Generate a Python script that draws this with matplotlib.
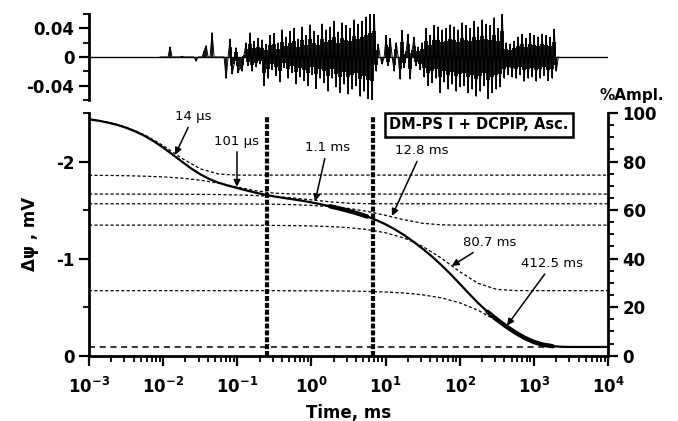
import numpy as np
import matplotlib
matplotlib.use("Agg")
import matplotlib.pyplot as plt
from matplotlib.ticker import FixedLocator, NullFormatter, LogLocator

plt.rcParams['font.family'] = ['DejaVu Sans']
plt.rcParams['mathtext.fontset'] = 'custom'
plt.rcParams['mathtext.rm'] = 'DejaVu Sans:bold'
plt.rcParams['mathtext.bf'] = 'DejaVu Sans:bold'
plt.rcParams['mathtext.it'] = 'DejaVu Sans:bold:italic'

# photovoltage transient, |dpsi| in mV, sampled every 1/8 decade from 1e-3 to 1e4 ms
fit_t = np.logspace(-3, 4, 57)
fit_mv = [2.435, 2.421, 2.402, 2.379, 2.348, 2.310, 2.264, 2.208, 2.144, 2.073,
          2.001, 1.930, 1.869, 1.819, 1.781, 1.752, 1.727, 1.702, 1.679, 1.658,
          1.640, 1.625, 1.611, 1.596, 1.579, 1.560, 1.539, 1.517, 1.492, 1.465,
          1.434, 1.397, 1.353, 1.301, 1.242, 1.175, 1.102, 1.022, 0.935, 0.841,
          0.741, 0.639, 0.541, 0.452, 0.373, 0.302, 0.239, 0.184, 0.141, 0.113,
          0.098, 0.092, 0.090, 0.090, 0.090, 0.090, 0.090]

# single components (dashed), every 1/4 decade
comp_t = np.logspace(-3, 4, 29)
comp_labels = ['14 µs', '101 µs', '1.1 ms', '12.8 ms', '80.7 ms', '412.5 ms']
comp_mv = [
    [2.437, 2.406, 2.355, 2.275, 2.164, 2.034, 1.925, 1.871, 1.860, 1.860,
     1.860, 1.860, 1.860, 1.860, 1.860, 1.860, 1.860, 1.860, 1.860, 1.860,
     1.860, 1.860, 1.860, 1.860, 1.860, 1.860, 1.860, 1.860, 1.860],
    [1.858, 1.857, 1.854, 1.849, 1.842, 1.829, 1.808, 1.777, 1.737, 1.699,
     1.674, 1.666, 1.665, 1.665, 1.665, 1.665, 1.665, 1.665, 1.665, 1.665,
     1.665, 1.665, 1.665, 1.665, 1.665, 1.665, 1.665, 1.665, 1.665],
    [1.665, 1.665, 1.665, 1.664, 1.664, 1.663, 1.662, 1.660, 1.656, 1.650,
     1.640, 1.625, 1.605, 1.585, 1.571, 1.566, 1.565, 1.565, 1.565, 1.565,
     1.565, 1.565, 1.565, 1.565, 1.565, 1.565, 1.565, 1.565, 1.565],
    [1.565, 1.565, 1.565, 1.565, 1.565, 1.565, 1.564, 1.564, 1.563, 1.562,
     1.560, 1.556, 1.548, 1.536, 1.517, 1.487, 1.446, 1.400, 1.364, 1.348,
     1.345, 1.345, 1.345, 1.345, 1.345, 1.345, 1.345, 1.345, 1.345],
    [1.345, 1.345, 1.345, 1.345, 1.345, 1.345, 1.345, 1.345, 1.344, 1.344,
     1.342, 1.340, 1.337, 1.330, 1.319, 1.300, 1.266, 1.212, 1.126, 1.006,
     0.865, 0.745, 0.683, 0.671, 0.670, 0.670, 0.670, 0.670, 0.670],
    [0.670, 0.670, 0.670, 0.670, 0.670, 0.670, 0.670, 0.670, 0.670, 0.670,
     0.670, 0.669, 0.669, 0.668, 0.666, 0.662, 0.656, 0.646, 0.627, 0.596,
     0.545, 0.467, 0.359, 0.238, 0.141, 0.098, 0.090, 0.090, 0.090],
]
baseline_mv = 0.09

# arrow tips (time, mV) and label positions
tip_t = [0.0145, 0.099, 1.12, 12.2, 78, 433]
tip_mv = [2.07, 1.74, 1.59, 1.44, 0.925, 0.31]
lab_t = [0.0254, 0.099, 1.63, 30.9, 250, 1774]
lab_mv = [2.46, 2.21, 2.14, 2.11, 1.165, 0.948]

flash_marks = [0.25, 6.8]   # vertical dotted markers, ms

# residuals (x 0.001), 200 points from 10^-2.04 to 10^3.33 ms
res_t = np.logspace(-2.042, 3.329, 200)
res_milli = [
    0, 0, 0, 0, 0, 14, 0, 0, 0, 0, 0, 1, 0, 0, 0, 0, 0, 0, -6, 0,
    0, 0, 8, 16, 0, 0, 34, 0, 0, 0, 0, 0, 0, -30, 0, 25, -24, -10, 13, -22,
    -14, -20, 3, 20, -12, 34, -20, 22, -14, 26, -10, 24, -40, 18, -30, 30, -18, 33, -26, 20,
    -35, 38, -15, 28, -30, 36, -22, 40, -38, 25, -28, 42, -33, 30, -40, 45, -25, 36, -44, 30,
    -30, 46, -36, 38, -48, 42, -30, 50, -42, 35, -50, 48, -38, 44, -52, 40, -45, 52, -40, 46,
    -55, 50, -48, 56, -58, 62, -60, 66, -20, 18, 0, -10, 0, 30, -12, 26, 0, -20, 20, 0,
    -31, 37, -15, 8, 32, -31, 10, 28, -12, 14, -18, 20, -28, 40, -40, 30, -36, 44, -30, 42,
    -50, 38, -35, 40, -45, 45, -38, 42, -48, 38, -42, 48, -40, 44, -50, 40, -45, 50, -55, 42,
    -48, 52, -40, 46, -58, 44, -50, 55, -45, 40, -42, 66, -30, 20, -25, 18, -28, 22, -30, 28,
    -25, 32, -34, 26, -30, 33, -28, 30, -34, 28, -30, 32, -26, 30, -33, 28, -30, 39, -20, 0,
]
res = np.array(res_milli) * 0.001

fig = plt.figure(figsize=(6.78, 4.21), dpi=100)
ax = fig.add_axes([0.1313, 0.1551, 0.7655, 0.5765])
axr = ax.twinx()
axt = fig.add_axes([0.1313, 0.7625, 0.7655, 0.2043], sharex=ax)

fit_t = np.asarray(fit_t)
fit = -np.array(fit_mv)

# components
for c in comp_mv:
    ax.plot(comp_t, -np.array(c), color='k', lw=0.9, ls=(0, (2.5, 1.8)))
ax.axhline(-baseline_mv, color='k', lw=1.1, ls=(0, (4, 3)))

ax.plot(fit_t, fit, color='k', lw=1.6, solid_capstyle='butt')
# noisier stretches of the record look thicker
for lo, hi in [(1.5, 7.0), (180, 1900)]:
    m = (fit_t >= lo) & (fit_t <= hi)
    ax.plot(fit_t[m], fit[m], color='k', lw=3.2, solid_capstyle='round')

for xm in flash_marks:
    ax.axvline(xm, ymin=0, ymax=0.985, color='k', lw=3, ls=(0, (1.2, 0.45)))

for i, lab in enumerate(comp_labels):
    ax.annotate(lab, xy=(tip_t[i], -tip_mv[i]), xytext=(lab_t[i], -lab_mv[i]),
                ha='center', va='center', fontsize=9.5,
                arrowprops=dict(arrowstyle='-|>', color='k', lw=1.1,
                                mutation_scale=10, shrinkA=1, shrinkB=0))

ax.text(0.751, 0.951, 'DM-PS I + DCPIP, Asc.', transform=ax.transAxes,
        ha='center', va='center', fontsize=10.5, fontweight='bold',
        bbox=dict(boxstyle='square,pad=0.3', fc='white', ec='k', lw=1.8))

ax.set_xscale('log')
ax.set_xlim(1e-3, 1e4)
ax.set_ylim(0, -2.5)
ax.set_yticks([0, -1, -2])
ax.set_yticklabels(['0', '-1', '-2'])
ax.yaxis.set_minor_locator(FixedLocator([-0.5, -1.5, -2.5]))
ax.xaxis.set_major_locator(LogLocator(base=10, numticks=20))
ax.xaxis.set_minor_locator(LogLocator(base=10, subs=np.arange(2, 10), numticks=20))
ax.xaxis.set_minor_formatter(NullFormatter())
ax.set_xlabel('Time, ms', fontsize=12, fontweight='bold', labelpad=5)
ax.set_ylabel('Δψ , mV', fontsize=12, fontweight='bold', labelpad=12)
ax.spines['top'].set_visible(False)
ax.spines['right'].set_visible(False)
for s in ['left', 'bottom']:
    ax.spines[s].set_linewidth(2)
ax.tick_params(which='major', direction='out', length=7, width=1.6,
               labelsize=12)
ax.tick_params(axis='x', which='major', pad=8)
ax.tick_params(which='minor', direction='out', length=4, width=1.3)
for lbl in ax.get_yticklabels() + ax.get_xticklabels():
    lbl.set_fontweight('bold')

axr.set_ylim(0, 100)
axr.set_yticks(np.arange(0, 101, 20))
axr.yaxis.set_minor_locator(FixedLocator(np.arange(0, 101, 5)))
for s in ['top', 'left', 'bottom']:
    axr.spines[s].set_visible(False)
axr.spines['right'].set_linewidth(2)
axr.tick_params(which='major', direction='out', length=7, width=1.6, labelsize=12)
axr.tick_params(which='minor', direction='out', length=4, width=1.3)
for lbl in axr.get_yticklabels():
    lbl.set_fontweight('bold')
fig.text(0.932, 0.772, '%Ampl.', ha='center', va='center', fontsize=11,
         fontweight='bold')

# residual panel
axt.axhline(0, color='k', lw=1)
axt.vlines(res_t, 0, res, color='k', lw=1.3)
axt.plot(res_t, res, color='k', lw=0.7)
# dense noise: fill the core between neighbouring samples of opposite sign
a, b = res[:-1], res[1:]
opp = a * b < 0
mid_t = np.sqrt(res_t[:-1] * res_t[1:])
axt.vlines(mid_t[opp], 0.55 * np.minimum(a, b)[opp], 0.55 * np.maximum(a, b)[opp],
           color='k', lw=1.3)
axt.set_ylim(-0.06, 0.06)
axt.set_yticks([-0.04, 0, 0.04])
axt.set_yticklabels(['-0.04', '0', '0.04'])
axt.yaxis.set_minor_locator(FixedLocator([-0.06, -0.02, 0.02, 0.06]))
for s in ['top', 'right', 'bottom']:
    axt.spines[s].set_visible(False)
axt.spines['left'].set_linewidth(2)
axt.tick_params(axis='x', which='both', bottom=False, labelbottom=False)
axt.tick_params(axis='y', which='major', direction='out', length=7, width=1.6,
                labelsize=12)
axt.tick_params(axis='y', which='minor', direction='out', length=4, width=1.3)
for lbl in axt.get_yticklabels():
    lbl.set_fontweight('bold')

fig.savefig('out.png', dpi=100)
